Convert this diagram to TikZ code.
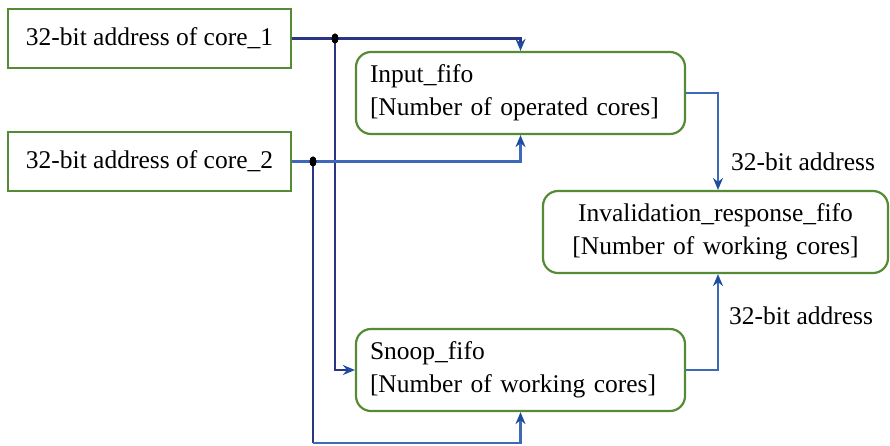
\documentclass[tikz,border=0pt]{standalone}
\usepackage{fontspec}
\setmainfont{Liberation Serif}
\usetikzlibrary{arrows.meta,shapes.geometric}
\definecolor{boxgreen}{HTML}{558B35}
\definecolor{navyline}{HTML}{2B3585}
\definecolor{blueline}{HTML}{3E68B8}
\definecolor{tipblue}{HTML}{1E4D9E}
\tikzset{
  corebox/.style={draw=boxgreen, line width=2.2pt, rectangle, minimum width=283pt,
    minimum height=59pt, inner sep=0pt, font=\fontsize{25.5}{30}\selectfont},
  fifobox/.style={draw=boxgreen, line width=2.2pt, rectangle, rounded corners=15pt,
    minimum height=82pt, inner xsep=14pt, inner ysep=0pt, align=left,
    font=\fontsize{25.5}{33}\selectfont},
  wire/.style={line width=2.2pt, draw=navyline},
  lwire/.style={line width=2.2pt, draw=blueline},
  tip/.style={-{Stealth[length=12pt,width=10pt,inset=4pt,color=tipblue]}},
  junction/.style={ellipse, fill=black, inner sep=0pt, minimum width=7pt, minimum height=10pt},
  lbl/.style={font=\fontsize{25.5}{28}\selectfont, anchor=west, inner sep=0pt}
}
\begin{document}
\begin{tikzpicture}[x=1pt,y=-1pt]
\useasboundingbox (0,0) rectangle (890,445);

% source boxes
\node[corebox] (c1) at (149.5,38.5) {32-bit address of core\_1};
\node[corebox] (c2) at (149.5,161.5) {32-bit address of core\_2};

% fifo boxes
\node[fifobox, text width=301pt] (inp) at (520.5,93) {Input\_fifo\\{}[Number of operated cores]};
\node[fifobox, text width=301pt] (snp) at (520.5,370) {Snoop\_fifo\\{}[Number of working cores]};
\node[fifobox, text width=317pt, align=center] (inv) at (715.5,232) {Invalidation\_response\_fifo\\{}[Number of working cores]};

% junction points on the address buses
\node[junction] (j1) at (335,38.5) {};
\node[junction] (j2) at (313,161.5) {};
\coordinate (bot) at (313,443);

% core_1 bus
\draw[wire, tip] (c1.east) -| (inp.north);
\draw[wire, tip] (j1.center) |- (snp.west);

% core_2 bus
\draw[lwire, tip] (c2.east) -| (inp.south);
\draw[wire] (j2.center) -- (bot);
\draw[lwire, tip] (bot) -| (snp.south);

% outputs to the invalidation fifo
\draw[lwire, tip] (inp.east) -| ([xshift=2.5pt]inv.north);
\draw[lwire, tip] (snp.east) -| ([xshift=2.5pt]inv.south);

\node[lbl] (la) at (731,162) {32-bit address};
\node[lbl] (lb) at (729,316) {32-bit address};

\node[junction] at (j1) {};
\node[junction] at (j2) {};
\end{tikzpicture}
\end{document}
